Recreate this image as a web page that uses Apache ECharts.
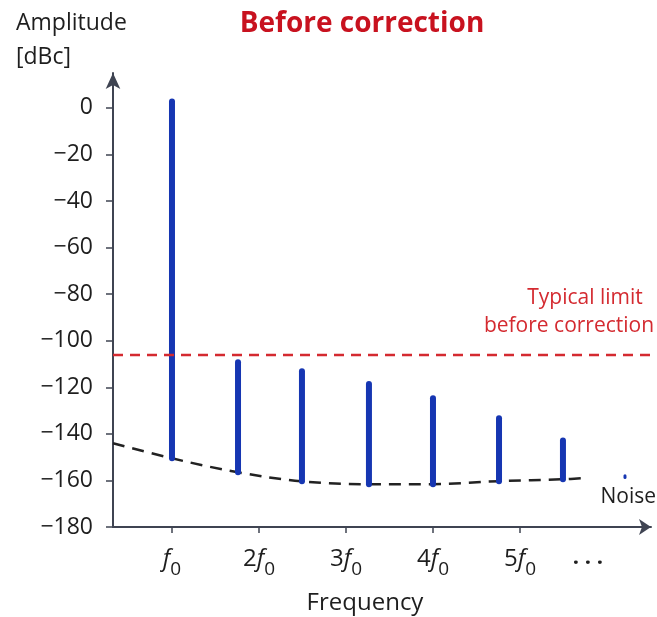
<!DOCTYPE html>
<html>
<head>
<meta charset="utf-8">
<script src="https://cdn.jsdelivr.net/npm/echarts@6/dist/echarts.min.js"></script>
<style>
html,body{margin:0;padding:0;background:#fff;}
#c{width:657px;height:617px;}
</style>
</head>
<body>
<div id="c"></div>
<script>
// ---- data ----
var titleText = 'Before correction';
var yAxisTitle = ['Amplitude', '[dBc]'];
var xAxisTitle = 'Frequency';
var limitLabel = ['Typical limit', 'before correction'];
var noiseLabel = 'Noise';

var yTicks = [0, -20, -40, -60, -80, -100, -120, -140, -160, -180];
var xTicks = [1, 2, 3, 4, 5];
var xTickLabels = ['{i|f}{s|0}', '{n|2}{i|f}{s|0}', '{n|3}{i|f}{s|0}', '{n|4}{i|f}{s|0}', '{n|5}{i|f}{s|0}'];
var ellipsisPos = 5.78;
var ellipsisLabel = '\u00B7 \u00B7 \u00B7';

// harmonic lines: x position (in f0 units), peak (dBc), noise floor at that point (dBc)
var harmonicX    = [1.0, 1.759, 2.494, 3.264, 4.0, 4.759, 5.494];
var harmonicPeak = [2.8, -109.2, -113.1, -118.6, -124.7, -133.3, -142.9];
var harmonicBase = [-150.5, -156.5, -160.4, -161.6, -161.6, -160.3, -159.5];

var noiseBlipX = [6.207];
var noiseBlipTop = [-158.0];
var noiseBlipBase = [-158.7];

// noise floor curve
var noiseX = [0.322, 1.0, 1.759, 2.494, 3.264, 4.0, 4.759, 5.494, 5.724];
var noiseY = [-144.0, -150.5, -156.5, -160.4, -161.6, -161.6, -160.3, -159.5, -159.0];

var limitValue = -106.1;
var xMin = 0.322, xMax = 6.506, yMin = -180, yMax = 15;

// ---- chart ----
var FONT = 'Open Sans';
var AXIS = '#3f4452';
var BLUE = '#1636b2';
var RED = '#d42a30';
var TXT = '#1e1e1e';

var chart = echarts.init(document.getElementById('c'), null, {renderer: 'canvas'});

function zip3(a, b, c) { return a.map(function (v, i) { return [v, b[i], c[i]]; }); }
function zip2(a, b) { return a.map(function (v, i) { return [v, b[i]]; }); }

function stemRender(width) {
  return function (params, api) {
    var p1 = api.coord([api.value(0), api.value(1)]);
    var p2 = api.coord([api.value(0), api.value(2)]);
    return {
      type: 'line',
      shape: {x1: p1[0], y1: p1[1], x2: p2[0], y2: p2[1]},
      style: {stroke: BLUE, lineWidth: width, lineCap: 'round'}
    };
  };
}

var option = {
  animation: false,
  backgroundColor: '#fff',
  grid: {left: 113, right: 6, top: 73, bottom: 90, containLabel: false},
  xAxis: {
    type: 'value', min: xMin, max: xMax,
    splitLine: {show: false},
    axisLine: {show: true, onZero: false, symbol: ['none', 'arrow'], symbolSize: [12, 12],
      lineStyle: {color: AXIS, width: 2}},
    axisTick: {show: true, customValues: xTicks, length: 6, lineStyle: {color: AXIS, width: 1.5}},
    axisLabel: {
      show: true, customValues: xTicks.concat([ellipsisPos]), margin: 18,
      formatter: function (v) {
        for (var i = 0; i < xTicks.length; i++) if (Math.abs(v - xTicks[i]) < 1e-6) return xTickLabels[i];
        if (Math.abs(v - ellipsisPos) < 1e-6) return '{e|' + ellipsisLabel + '}';
        return '';
      },
      rich: {
        n: {fontFamily: FONT, fontSize: 24, color: TXT, verticalAlign: 'bottom', lineHeight: 26},
        i: {fontFamily: FONT, fontSize: 24, fontStyle: 'italic', color: TXT, verticalAlign: 'bottom', lineHeight: 26},
        s: {fontFamily: FONT, fontSize: 19, color: TXT, verticalAlign: 'bottom', lineHeight: 18, padding: [0, 0, -8, 0]},
        e: {fontFamily: FONT, fontSize: 22, fontWeight: 'bold', color: TXT, verticalAlign: 'bottom', lineHeight: 30}
      }
    }
  },
  yAxis: {
    type: 'value', min: yMin, max: yMax,
    splitLine: {show: false},
    axisLine: {show: true, onZero: false, symbol: ['none', 'arrow'], symbolSize: [11, 16],
      lineStyle: {color: AXIS, width: 2}},
    axisTick: {show: true, customValues: yTicks, length: 7, lineStyle: {color: AXIS, width: 1.5}},
    axisLabel: {
      show: true, customValues: yTicks, margin: 20,
      fontFamily: FONT, fontSize: 23, color: TXT,
      formatter: function (v) { return v < 0 ? '\u2212' + (-v) : String(v); }
    }
  },
  series: [
    {
      type: 'line', name: 'noise', data: zip2(noiseX, noiseY),
      smooth: 0.35, showSymbol: false, symbol: 'none', z: 2,
      lineStyle: {color: '#222', width: 2.5, type: [12, 8]}
    },
    {
      type: 'custom', name: 'harmonics', data: zip3(harmonicX, harmonicPeak, harmonicBase),
      encode: {x: 0, y: [1, 2]}, renderItem: stemRender(6), z: 3
    },
    {
      type: 'custom', name: 'blip', data: zip3(noiseBlipX, noiseBlipTop, noiseBlipBase),
      encode: {x: 0, y: [1, 2]}, renderItem: stemRender(3), z: 3
    },
    {
      type: 'line', name: 'limit', data: [[xMin, limitValue], [6.545, limitValue]],
      clip: false, showSymbol: false, symbol: 'none', z: 4,
      lineStyle: {color: RED, width: 2.5, type: [10, 7]}
    }
  ],
  graphic: [
    {type: 'text', x: 362, y: 24, style: {text: titleText, fontFamily: FONT, fontWeight: 'bold',
      fontSize: 28, fill: '#c8121f', align: 'center', verticalAlign: 'middle'}},
    {type: 'text', x: 16, y: 23, style: {text: yAxisTitle[0], fontFamily: FONT, fontSize: 23, fill: TXT,
      align: 'left', verticalAlign: 'middle'}},
    {type: 'text', x: 16, y: 57, style: {text: yAxisTitle[1], fontFamily: FONT, fontSize: 23, fill: TXT,
      align: 'left', verticalAlign: 'middle'}},
    {type: 'text', x: 365, y: 603, style: {text: xAxisTitle, fontFamily: FONT, fontSize: 24, fill: TXT,
      align: 'center', verticalAlign: 'middle'}},
    {type: 'text', x: 656, y: 497, style: {text: noiseLabel, fontFamily: FONT, fontSize: 21, fill: TXT,
      align: 'right', verticalAlign: 'middle'}},
    {type: 'text', x: 585, y: 298, style: {text: limitLabel[0], fontFamily: FONT, fontSize: 21, fill: RED,
      align: 'center', verticalAlign: 'middle'}},
    {type: 'text', x: 569, y: 326, style: {text: limitLabel[1], fontFamily: FONT, fontSize: 21, fill: RED,
      align: 'center', verticalAlign: 'middle'}}
  ]
};
chart.setOption(option);
</script>
</body>
</html>
